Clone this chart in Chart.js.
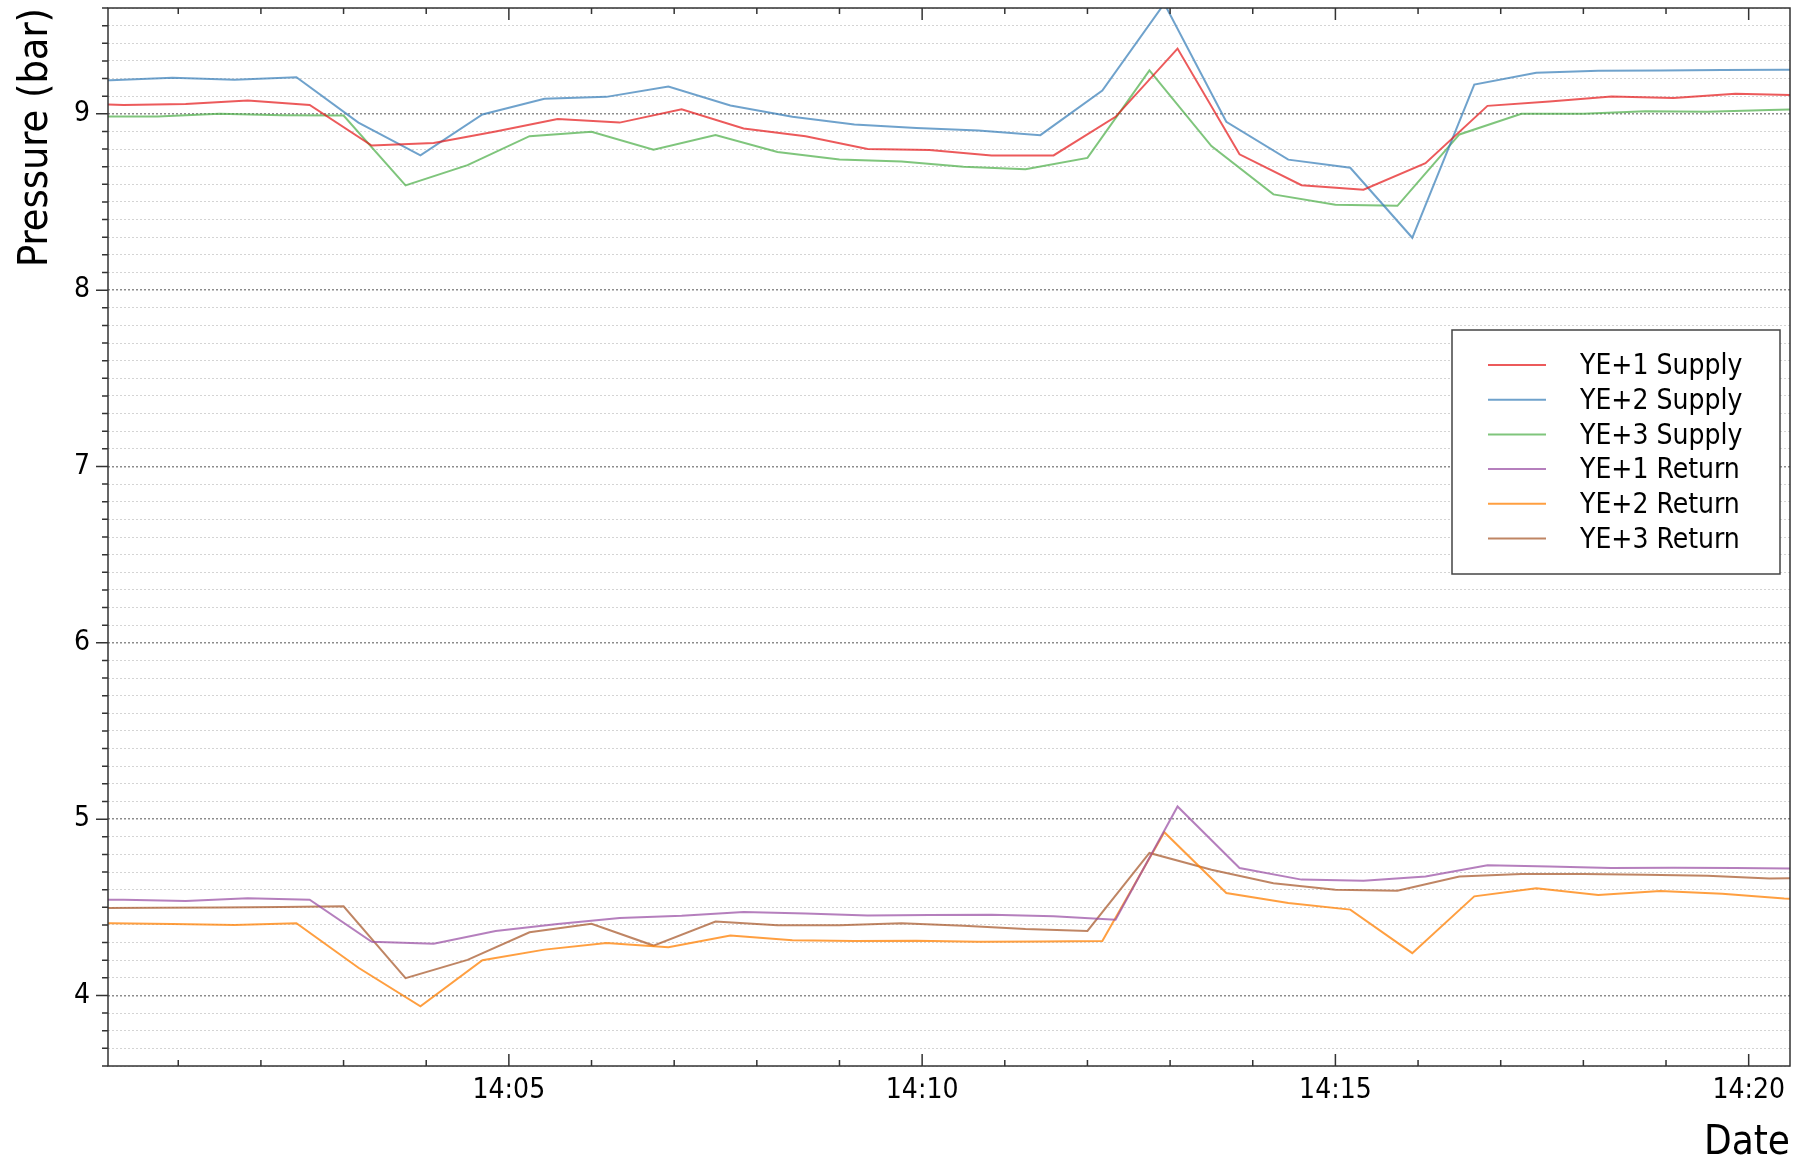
<!DOCTYPE html>
<html>
<head>
<meta charset="utf-8">
<title>Pressure (bar)</title>
<script src="https://cdn.jsdelivr.net/npm/chart.js@4.4.1/dist/chart.umd.min.js"></script>
<style>
  html, body { margin: 0; padding: 0; background: #fff; }
  #wrap { width: 1803px; height: 1165px; position: relative; }
</style>
</head>
<body>
<div id="wrap"><canvas id="pressureChart"></canvas></div>
<script>
// sample times, minutes after 14:00 (each YE logger has its own offset)
const timesYE1 = [-0.41, 0.34, 1.09, 1.84, 2.59, 3.34, 4.09, 4.84, 5.59, 6.34, 7.09, 7.84, 8.59, 9.34, 10.09,
    10.84, 11.59, 12.34, 13.09, 13.84, 14.59, 15.34, 16.09, 16.84, 17.59, 18.34, 19.09, 19.84, 20.59];
const timesYE2 = [-0.57, 0.18, 0.93, 1.68, 2.43, 3.18, 3.93, 4.68, 5.43, 6.18, 6.93, 7.68, 8.43, 9.18, 9.93,
    10.68, 11.43, 12.18, 12.93, 13.68, 14.43, 15.18, 15.93, 16.68, 17.43, 18.18, 18.93, 19.68, 20.43, 21.18];
const timesYE3 = [0, 0.75, 1.5, 2.25, 3, 3.75, 4.5, 5.25, 6, 6.75, 7.5, 8.25, 9, 9.75, 10.5,
    11.25, 12, 12.75, 13.5, 14.25, 15, 15.75, 16.5, 17.25, 18, 18.75, 19.5, 20.25, 21];

// pressure readings (bar)
const ye1Supply = [9.06, 9.05, 9.055, 9.075, 9.05, 8.82, 8.835, 8.90, 8.97, 8.95, 9.025, 8.917, 8.873, 8.80, 8.795,
    8.764, 8.764, 8.983, 9.37, 8.77, 8.595, 8.57, 8.72, 9.045, 9.07, 9.098, 9.09, 9.113, 9.105];
const ye2Supply = [9.185, 9.19, 9.205, 9.193, 9.207, 8.95, 8.764, 8.996, 9.085, 9.096, 9.155, 9.047, 8.983, 8.94, 8.92,
    8.905, 8.879, 9.132, 9.625, 8.955, 8.74, 8.694, 8.297, 9.166, 9.233, 9.244, 9.246, 9.248, 9.25, 9.252];
const ye3Supply = [8.985, 8.985, 9.0, 8.992, 8.99, 8.594, 8.709, 8.873, 8.898, 8.796, 8.879, 8.783, 8.741, 8.73, 8.70,
    8.686, 8.75, 9.246, 8.817, 8.543, 8.484, 8.478, 8.883, 9.0, 9.0, 9.015, 9.011, 9.022, 9.03];
const ye1Return = [4.545, 4.543, 4.536, 4.551, 4.543, 4.304, 4.294, 4.365, 4.405, 4.44, 4.452, 4.474, 4.465, 4.453, 4.457,
    4.458, 4.449, 4.43, 5.072, 4.723, 4.657, 4.651, 4.675, 4.738, 4.732, 4.723, 4.725, 4.723, 4.72];
const ye2Return = [4.412, 4.41, 4.405, 4.40, 4.41, 4.157, 3.938, 4.20, 4.26, 4.298, 4.274, 4.34, 4.313, 4.309, 4.311,
    4.304, 4.306, 4.309, 4.926, 4.581, 4.525, 4.487, 4.240, 4.562, 4.608, 4.57, 4.592, 4.577, 4.55, 4.54];
const ye3Return = [4.495, 4.497, 4.499, 4.502, 4.506, 4.098, 4.202, 4.358, 4.406, 4.283, 4.419, 4.398, 4.398, 4.409, 4.396,
    4.377, 4.366, 4.808, 4.713, 4.636, 4.60, 4.594, 4.675, 4.689, 4.689, 4.685, 4.679, 4.664, 4.665];

const seriesLabels = ['YE+1 Supply', 'YE+2 Supply', 'YE+3 Supply', 'YE+1 Return', 'YE+2 Return', 'YE+3 Return'];
const xTickLabels = { 5: '14:05', 10: '14:10', 15: '14:15', 20: '14:20' };
const yTickLabels = [4, 5, 6, 7, 8, 9];

const FONT = '"DejaVu Sans Condensed", "DejaVu Sans", sans-serif';
const colors = ['rgba(228,26,28,0.72)', 'rgba(55,126,184,0.72)', 'rgba(77,175,74,0.72)',
    'rgba(152,78,163,0.72)', 'rgba(255,127,0,0.75)', 'rgba(166,86,40,0.72)'];

const series = [
    [timesYE1, ye1Supply], [timesYE2, ye2Supply], [timesYE3, ye3Supply],
    [timesYE1, ye1Return], [timesYE2, ye2Return], [timesYE3, ye3Return]
];

const isWhole = v => Math.abs(v - Math.round(v)) < 1e-6;

// frame + tick marks (left ticks outside, top/bottom ticks inside)
const frameTicks = {
    id: 'frameTicks',
    afterDatasetsDraw(chart) {
        const { ctx, chartArea: a, scales } = chart;
        ctx.save();
        ctx.strokeStyle = '#333';
        ctx.lineWidth = 1.5;
        ctx.strokeRect(a.left, a.top, a.right - a.left, a.bottom - a.top);
        ctx.beginPath();
        scales.y.ticks.forEach(t => {
            const py = scales.y.getPixelForValue(t.value);
            const len = isWhole(t.value) ? 12 : 6;
            ctx.moveTo(a.left - len, py);
            ctx.lineTo(a.left, py);
        });
        scales.x.ticks.forEach(t => {
            const px = scales.x.getPixelForValue(t.value);
            const len = Math.round(t.value) % 5 === 0 ? 12 : 6;
            ctx.moveTo(px, a.bottom);
            ctx.lineTo(px, a.bottom - len);
            ctx.moveTo(px, a.top);
            ctx.lineTo(px, a.top + len);
        });
        ctx.stroke();
        ctx.restore();
    }
};

// boxed legend inside the plot area
const boxLegend = {
    id: 'boxLegend',
    afterDraw(chart) {
        const { ctx, chartArea: a } = chart;
        const x0 = a.right - 338, y0 = a.top + 322, w = 328, h = 244;
        ctx.save();
        ctx.fillStyle = '#fff';
        ctx.fillRect(x0, y0, w, h);
        ctx.strokeStyle = '#444';
        ctx.lineWidth = 1.5;
        ctx.strokeRect(x0, y0, w, h);
        ctx.font = '28px ' + FONT;
        ctx.textBaseline = 'middle';
        chart.data.datasets.forEach((ds, i) => {
            const y = y0 + 35 + i * 34.7;
            ctx.strokeStyle = ds.borderColor;
            ctx.lineWidth = 2;
            ctx.beginPath();
            ctx.moveTo(x0 + 36, y);
            ctx.lineTo(x0 + 94, y);
            ctx.stroke();
            ctx.fillStyle = '#000';
            ctx.fillText(ds.label, x0 + 128, y + 2);
        });
        ctx.restore();
    }
};

Chart.defaults.font.family = FONT;
Chart.defaults.color = '#000';

new Chart(document.getElementById('pressureChart').getContext('2d'), {
    type: 'line',
    data: {
        datasets: series.map(([ts, vals], i) => ({
            label: seriesLabels[i],
            data: ts.map((t, j) => ({ x: t, y: vals[j] })),
            borderColor: colors[i],
            borderWidth: 2,
            pointRadius: 0,
            tension: 0,
            fill: false
        }))
    },
    options: {
        responsive: true,
        maintainAspectRatio: false,
        animation: false,
        layout: { padding: { top: 8, right: 13, left: 0, bottom: 0 } },
        plugins: {
            legend: { display: false },
            tooltip: { enabled: false }
        },
        scales: {
            x: {
                type: 'linear',
                min: 0.15,
                max: 20.5,
                afterFit: s => { s.height = 99; s.paddingLeft = 0; s.paddingRight = 0; },
                grid: { display: false, drawTicks: false },
                border: { display: false },
                ticks: {
                    stepSize: 1,
                    includeBounds: false,
                    autoSkip: false,
                    maxRotation: 0,
                    padding: 8,
                    font: { size: 28 },
                    callback: v => xTickLabels[Math.round(v)] || ''
                },
                title: {
                    display: true,
                    text: 'Date',
                    align: 'end',
                    font: { size: 40, lineHeight: 1.05 },
                    padding: { top: 0, bottom: 0 }
                }
            },
            y: {
                min: 3.6,
                max: 9.6,
                afterFit: s => { s.width = 108; s.paddingTop = 0; s.paddingBottom = 0; },
                grid: {
                    drawTicks: false,
                    color: c => isWhole(c.tick.value) ? 'rgba(0,0,0,0.45)' : 'rgba(0,0,0,0.17)',
                    lineWidth: c => isWhole(c.tick.value) ? 1.5 : 1
                },
                border: { display: false, dash: [2, 2] },
                ticks: {
                    stepSize: 0.1,
                    includeBounds: false,
                    autoSkip: false,
                    maxTicksLimit: 100,
                    padding: 18,
                    font: { size: 28 },
                    callback: v => (isWhole(v) && yTickLabels.includes(Math.round(v))) ? String(Math.round(v)) : ''
                },
                title: {
                    display: true,
                    text: 'Pressure (bar)',
                    align: 'end',
                    font: { size: 41, lineHeight: 1.05 },
                    padding: { top: 15, bottom: 0 }
                }
            }
        }
    },
    plugins: [frameTicks, boxLegend]
});
</script>
</body>
</html>
